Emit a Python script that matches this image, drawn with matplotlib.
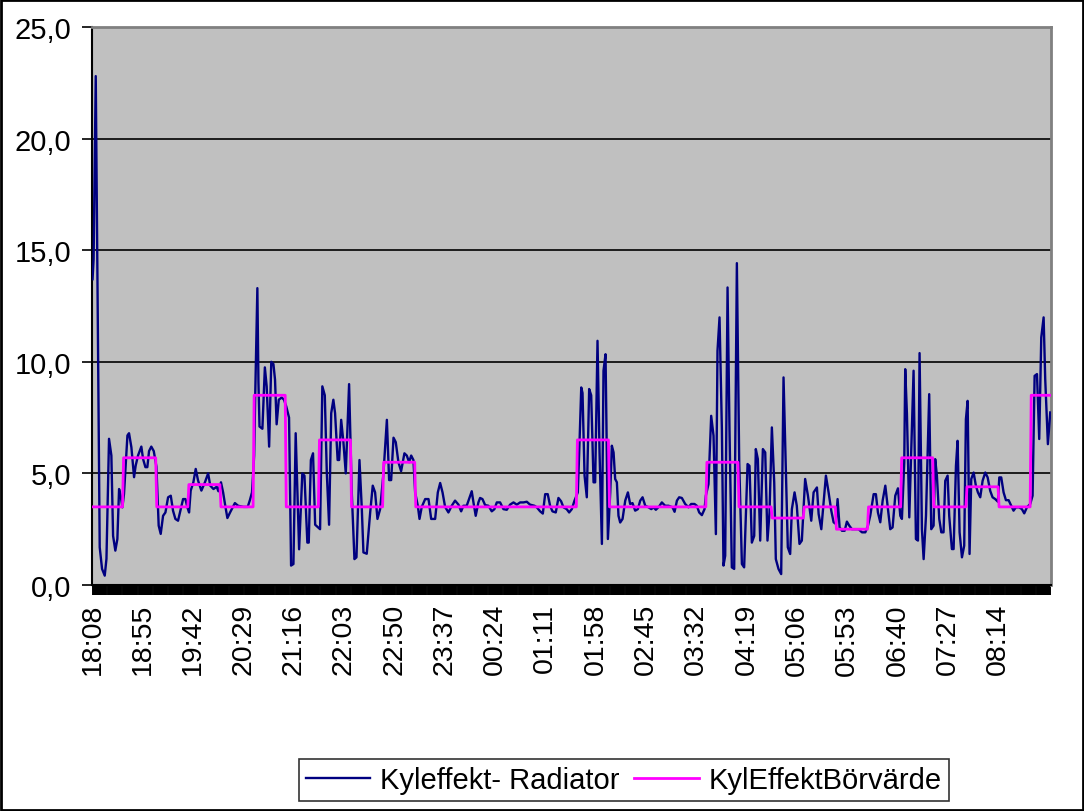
import numpy as np
import matplotlib.pyplot as plt
from matplotlib.patches import Rectangle

plt.rcParams['font.family'] = ['Liberation Sans', 'DejaVu Sans']

# minutes after 18:08 (one category per minute) and measured cooling power
radiator_min = [0, 1, 3, 6.7, 8.9, 11.4, 13, 15.4, 17.6, 19.2, 21.3, 23.2, 24.8, 26.3, 27.9,
                29.4, 32.6, 34.1, 36.3, 38.8, 40.3, 42.5, 44.1, 45.6, 47.2, 49.4, 51.2, 52.8,
                54.9, 57.2, 59.7, 61.8, 63.7, 65.9, 68.1, 70.6, 73.1, 75.2, 77.4, 79.9, 82.4,
                84.6, 86.8, 88.6, 90.2, 91.7, 94.2, 96.4, 98.6, 101.7,
                105, 108, 110, 113, 116, 117.6, 120, 122, 124, 126, 128.5, 133, 136, 141, 145, 147,
                149, 151, 152, 154, 155, 156, 158.7, 161, 162.7, 165, 167, 169, 170.5, 172, 174,
                176.7, 178.9, 181, 183.6, 185.5, 187.7, 189.8, 193, 196, 198, 200.7, 202, 204, 206,
                208, 212.6, 214.7, 217,
                218.9, 221, 223, 225, 226.6, 229, 230.4, 232.3, 234.4, 236.6, 239.7, 242.2, 244.7,
                246.6, 249.4, 251.6, 253.1, 256.2, 259.4, 261.8, 264, 266.2, 268.7, 271.8, 275,
                277.1, 279, 281.2, 283.3, 285.8, 288.3, 291.4, 293.6, 295.8, 297.7, 299.8, 301.4,
                303.9, 305.5, 307.6, 310.8, 313.9, 316.4, 320.1, 322.6, 324.8, 327, 329.4,
                332.5, 335.6, 338.7, 341.9, 344.4, 346.5, 349.6, 351.8, 354.3, 355.9, 358, 360.5,
                362.1, 364.3, 366.8, 369.9, 373, 375.5, 377.7, 380.8, 383.9, 387, 390.1, 393.3,
                396.4, 399.5, 402.6, 405.7, 408.8, 412.9, 415.1, 418.2, 420.7, 422.9, 425.3, 427.5,
                429.7, 432.8, 435.3, 437.8, 440,
                443, 445.3, 447.8, 450.3, 453.4, 454.7, 456.6, 457.8, 459.7, 461.8, 464, 465.9,
                468.1, 469.6, 471.8, 473.7, 475.9, 477.4, 479.3, 481.5, 483.7, 485.2, 486.8, 488.3,
                489.9, 491.4, 493, 495.2, 497.7, 500.2, 502.3, 504.5, 507, 509.5, 511.7, 513.9,
                516.4, 519.5, 522, 524.2, 526.3, 529.4, 531.9, 535, 538.2, 541.9, 543.8, 546,
                548.1, 550.6, 553.7,
                556.8, 559.3, 562.4, 564.6, 566.8, 569.3, 571.8, 573, 575.5, 578, 580.2, 582.4,
                583.9, 585.8, 588, 589.5, 591.1, 593.3, 595.1, 597.3, 599.5, 602, 604.2, 606.7,
                608.8, 612, 613.8, 616, 618.2, 619.7, 621.6, 623.8, 626.3, 628.5, 630.6, 632.5,
                634.7, 636.9, 638.4, 640.9, 643.4, 645.6, 647.1, 649.6, 651.8, 653.4, 655.9, 658,
                660.5, 662.7, 665.8,
                668.4, 671.5, 673.7, 676.8, 678.4, 680.9, 683, 685.2, 687.7, 690.2, 692.4, 694.6,
                696.1, 698, 700.2, 702.7, 704.8, 707, 709.5, 712.6, 715.7, 718.9, 722, 724.5,
                726.6, 729.8, 731.9, 733.8, 736, 738.2, 740.7, 742.8, 745.3, 747.5, 750, 752.5,
                754.7, 756.2, 758.4, 759.3, 760.9, 763.1, 767.1, 769.3, 771.2, 772.7, 774.9, 776.5,
                778.7,
                781.7, 783.6, 785.8, 787.3, 788.9, 791.1, 793, 795.1, 796.7, 798.9, 800.4, 802.9,
                804.5, 806.7, 808.2, 810.1, 812.3, 814.4, 816, 817.6, 819.4, 821, 823.2, 825.3,
                827.2, 829.4, 831.6, 834.1, 836.3, 838.7, 840.9, 843.4, 845.9, 847.2, 849, 851.2,
                853.4, 855.9, 858.4, 860.5, 862.7, 865.8, 868.3, 870.5, 873, 876.1, 878.3, 880.2,
                882.4, 884.5, 886.4, 888.6, 890.1, 892.6, 894.8]
radiator_kw = [13.7, 14.6, 22.8, 1.69, 0.72, 0.42, 1.17, 6.55, 5.8, 2.2, 1.54, 2.06, 4.3, 4.0, 3.48,
               4.08, 6.7, 6.8, 6.17, 4.83, 5.35, 5.8, 6.0, 6.2, 5.65, 5.28, 5.28, 6.0,
               6.2, 6.0, 5.3, 2.66, 2.29, 3.1, 3.25, 3.93, 4.0, 3.33, 2.96, 2.88, 3.4,
               3.85, 3.85, 3.48, 3.25, 4.23, 4.6, 5.2, 4.68, 4.23,
               4.6, 5.0, 4.45, 4.3, 4.4, 4.2, 4.6, 4.15, 3.55, 3.0, 3.25, 3.67, 3.55, 3.5, 3.5, 3.8,
               4.15, 5.8, 8.5, 13.3, 9.1, 7.1, 7.0, 9.75, 8.9, 6.2, 10.0, 9.9, 9.2, 7.2, 8.3,
               8.4, 8.3, 8.0, 7.5, 0.87, 0.94, 6.8, 1.6, 5.0, 4.9, 1.9, 1.9, 5.6, 5.9,
               2.7, 2.5, 8.9, 8.5,
               5.0, 2.7, 7.7, 8.3, 7.7, 5.6, 5.6, 7.4, 6.4, 5.0, 9.0, 4.15, 1.16,
               1.24, 5.6, 3.4, 1.46, 1.4, 3.25, 4.45, 4.15, 2.96, 3.4, 5.0, 7.4,
               4.7, 4.7, 6.6, 6.4, 5.5, 5.1, 5.9, 5.8, 5.5, 5.8, 5.6, 4.15,
               3.55, 2.96, 3.5, 3.85, 3.85, 2.96, 2.96, 4.15, 4.57, 4.15, 3.5,
               3.25, 3.55, 3.78, 3.6, 3.3, 3.55, 3.55, 3.85, 4.2, 3.7, 3.1, 3.7,
               3.9, 3.85, 3.58, 3.55, 3.3, 3.4, 3.7, 3.7, 3.4, 3.37, 3.6, 3.7,
               3.6, 3.7, 3.7, 3.73, 3.6, 3.55, 3.48, 3.3, 3.2, 4.07, 4.07, 3.55,
               3.3, 3.25, 3.9, 3.75, 3.48,
               3.4, 3.25, 3.4, 3.78, 4.15, 5.94, 8.85, 8.6, 4.9, 3.93, 8.78, 8.5,
               4.6, 4.6, 10.94, 5.94, 1.84, 9.6, 10.34, 2.06, 4.15, 6.24, 5.94, 4.75,
               4.6, 3.1, 2.8, 2.96, 3.78, 4.15, 3.63, 3.67, 3.33, 3.4, 3.78, 3.93,
               3.55, 3.48, 3.4, 3.48, 3.37, 3.52, 3.7, 3.55, 3.55, 3.48, 3.28, 3.78,
               3.93, 3.9, 3.63,
               3.48, 3.63, 3.63, 3.55, 3.25, 3.13, 3.4, 4.0, 4.52, 7.58, 6.69, 2.28,
               10.49, 11.99, 6.99, 0.87, 1.31, 13.33, 6.99, 0.79, 0.72, 14.42, 5.49, 0.94,
               0.79, 5.42, 5.34, 1.9, 2.2, 6.09, 5.64, 1.99, 6.09, 5.94, 1.99, 3.25,
               7.06, 4.6, 1.16, 0.72, 0.49, 9.3, 6.39, 1.69, 1.39, 3.4, 4.15, 3.55,
               1.84, 1.99, 4.75,
               4.0, 2.88, 4.15, 4.37, 3.18, 2.5, 3.7, 4.9, 4.15, 3.33, 2.81, 2.73,
               3.85, 2.58, 2.43, 2.43, 2.84, 2.66, 2.5, 2.5, 2.5, 2.36, 2.36, 2.66,
               3.1, 4.07, 4.07, 3.25, 2.81, 3.78, 4.45, 3.55, 2.5, 2.58, 4.0, 4.33,
               3.1, 2.96, 5.5, 9.67, 7.66, 3.03, 9.6, 2.06, 1.99, 10.39, 2.5, 1.16,
               3.1,
               8.55, 2.5, 2.66, 5.64, 4.9, 2.96, 2.36, 2.36, 4.67, 4.9, 3.1, 1.61,
               1.61, 5.34, 6.46, 2.36, 1.24, 1.76, 7.43, 8.25, 1.39, 4.75, 5.04, 4.45,
               4.15, 3.93, 4.67, 5.04, 4.82, 4.22, 3.93, 3.85, 3.73, 4.82, 4.82, 4.15,
               3.8, 3.8, 3.55, 3.33, 3.48, 3.48, 3.4, 3.21, 3.48, 3.63, 4.0, 9.37,
               9.45, 6.54, 11.09, 11.99, 9.22, 6.31, 7.73]

# setpoint: minute at which each new level starts, and the levels themselves
setpoint_change = [29, 60, 90, 120, 151, 181, 212, 242, 272, 302, 453, 483, 574,
                   604, 635, 665, 695, 725, 756, 786, 817, 847, 877]
setpoint_level = [3.5, 5.7, 3.5, 4.5, 3.5, 8.5, 3.5, 6.5, 3.5, 5.5, 3.5, 6.5, 3.5,
                  5.5, 3.5, 3.0, 3.5, 2.5, 3.5, 5.7, 3.5, 4.4, 3.5, 8.5]

n_points = 896
time_labels = ["18:08", "18:55", "19:42", "20:29", "21:16", "22:03", "22:50", "23:37",
               "00:24", "01:11", "01:58", "02:45", "03:32", "04:19", "05:06", "05:53",
               "06:40", "07:27", "08:14"]
label_step = 47

# vertices of the setpoint line (level change happens over one sample)
sp_x, sp_y = [0], [setpoint_level[0]]
for i, c in enumerate(setpoint_change):
    sp_x += [c - 1, c]
    sp_y += [setpoint_level[i], setpoint_level[i + 1]]
sp_x.append(n_points - 1)
sp_y.append(setpoint_level[-1])

fig = plt.figure(figsize=(10.84, 8.12), dpi=100)
ax = fig.add_axes([92 / 1084, 1 - 586 / 812, (1051 - 92) / 1084, (586 - 28) / 812])
ax.set_facecolor('#C0C0C0')

ax.plot(radiator_min, radiator_kw, color='#000080', linewidth=1.7,
        label='Kyleffekt- Radiator', zorder=3)
ax.plot(sp_x, sp_y, color='#FF00FF', linewidth=2.0,
        label='KylEffektBörvärde', zorder=4)

ax.set_xlim(-0.5, n_points - 0.5)
ax.set_ylim(0, 25)
ax.set_yticks(np.arange(0, 26, 5))
ax.set_yticklabels([f"{v:.1f}".replace('.', ',') for v in np.arange(0, 26, 5)])
ax.yaxis.grid(True, color='black', linewidth=1.2)
ax.set_axisbelow(True)

ax.set_xticks(np.arange(len(time_labels)) * label_step)
ax.set_xticklabels(time_labels, rotation=90)
ax.set_xticks(np.arange(n_points), minor=True)
ax.tick_params(axis='x', which='both', direction='out', length=7, width=1.4,
               color='black', labelsize=20.5, pad=6)
ax.tick_params(axis='y', which='major', direction='out', length=7, width=1.2,
               labelsize=21, pad=8)

for side in ['left', 'bottom']:
    ax.spines[side].set_color('black')
    ax.spines[side].set_linewidth(1.5)
for side in ['top', 'right']:
    ax.spines[side].set_color('#808080')
    ax.spines[side].set_linewidth(2.0)

leg = fig.legend(loc='center', bbox_to_anchor=(624 / 1084, 1 - 781 / 812), ncol=2,
                 fontsize=21, frameon=True, fancybox=False, edgecolor='black',
                 handlelength=2.2, handletextpad=0.35, columnspacing=0.5,
                 borderpad=0.25)
leg.get_frame().set_linewidth(1.2)

fig.patches.append(Rectangle((0.001, 0.001), 0.998, 0.998, transform=fig.transFigure,
                             fill=False, edgecolor='black', linewidth=2))

fig.savefig('out.png', dpi=100, facecolor='white')
